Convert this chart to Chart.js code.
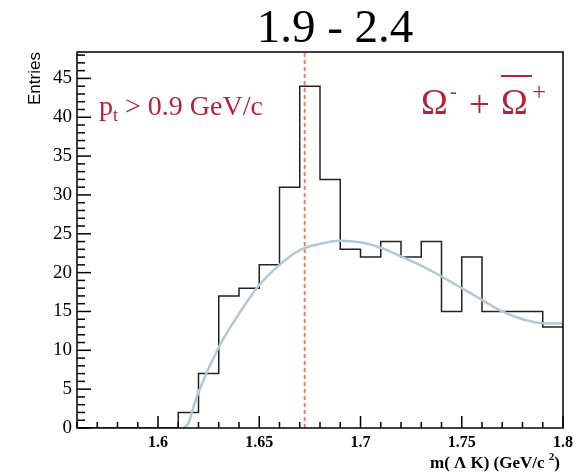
<!DOCTYPE html>
<html>
<head>
<meta charset="utf-8">
<script src="https://cdn.jsdelivr.net/npm/chart.js@4/dist/chart.umd.min.js"></script>
<style>
  html, body { margin:0; padding:0; background:#fff; }
  #wrap { width:587px; height:472px; position:relative; }
</style>
</head>
<body>
<div id="wrap"><canvas id="c"></canvas></div>
<script>
// histogram: 24 bins of 0.01 from 1.56 to 1.80
const binLow = 1.56;
const binWidth = 0.01;
const counts = [0,0,0,0,0,2,7,17,18,21,31,44,32,23,22,24,22,24,15,22,15,15,15,13];

// background fit
const fitX = [1.6126,1.615,1.6175,1.62,1.63,1.64,1.65,1.66,1.67,1.68,1.69,1.70,1.71,1.72,1.73,1.74,1.75,1.76,1.77,1.78,1.79,1.80];
const fitY = [0,0.6,2.7,4.6,10.4,14.7,18.4,21.0,22.9,23.7,24.1,23.9,23.2,22.1,20.9,19.5,18.0,16.5,15.0,14.0,13.5,13.45];

const omegaMass = 1.67245;
const xTicks = [1.6, 1.65, 1.7, 1.75, 1.8];
const yTicks = [0,5,10,15,20,25,30,35,40,45];
const xMin = 1.56, xMax = 1.8, yMax = 48.4;

const RED = '#b5213a';
const SERIF = '"Liberation Serif"';

const histPts = counts.map((c, i) => ({ x: binLow + i * binWidth, y: c }));
histPts.push({ x: binLow + counts.length * binWidth, y: counts[counts.length - 1] });
const fitPts = fitX.map((x, i) => ({ x, y: fitY[i] }));

// ROOT style inside ticks + frame
const rootAxes = {
  id: 'rootAxes',
  afterDatasetsDraw(chart) {
    const { ctx, chartArea: a } = chart;
    const sx = chart.scales.x, sy = chart.scales.y;
    ctx.save();
    ctx.setLineDash([]);
    ctx.strokeStyle = '#000';
    ctx.lineWidth = 1.5;
    for (let v = 0; v <= yMax; v++) {
      const py = sy.getPixelForValue(v);
      ctx.beginPath();
      ctx.moveTo(a.left, py);
      ctx.lineTo(a.left + (v % 5 === 0 ? 14 : 8), py);
      ctx.stroke();
    }
    for (let k = 0; k <= 24; k++) {
      const v = xMin + k * 0.01;
      const tx = sx.getPixelForValue(v);
      const major = Math.abs(Math.round(v / 0.05) * 0.05 - v) < 1e-6;
      ctx.beginPath();
      ctx.moveTo(tx, a.bottom);
      ctx.lineTo(tx, a.bottom - (major ? 12 : 6));
      ctx.stroke();
    }
    ctx.strokeRect(a.left, a.top, a.right - a.left, a.bottom - a.top);
    ctx.restore();
  }
};

const rootText = {
  id: 'rootText',
  afterDraw(chart) {
    const ctx = chart.ctx;
    ctx.save();
    ctx.fillStyle = '#000';
    ctx.textBaseline = 'alphabetic';

    // title
    ctx.textAlign = 'center';
    ctx.font = '47px ' + SERIF;
    ctx.fillText('1.9 - 2.4', 335, 42);

    // y title
    ctx.save();
    ctx.translate(40, 105);
    ctx.rotate(-Math.PI / 2);
    ctx.textAlign = 'left';
    ctx.font = '17px "Liberation Sans"';
    ctx.fillText('Entries', 0, 0);
    ctx.restore();

    // x title
    ctx.textAlign = 'left';
    ctx.font = 'bold 17px ' + SERIF;
    const t1 = 'm( \u039B K) (GeV/c ';
    const w1 = ctx.measureText(t1).width;
    const w3 = ctx.measureText(')').width;
    ctx.font = 'bold 11px ' + SERIF;
    const w2 = ctx.measureText('2').width;
    const tx0 = 560 - (w1 + w2 + w3);
    ctx.font = 'bold 17px ' + SERIF;
    ctx.fillText(t1, tx0, 468);
    ctx.fillText(')', tx0 + w1 + w2, 468);
    ctx.font = 'bold 11px ' + SERIF;
    ctx.fillText('2', tx0 + w1, 460);

    // pt label
    ctx.fillStyle = RED;
    ctx.font = '28px ' + SERIF;
    let px = 99;
    ctx.fillText('p', px, 115);
    px += ctx.measureText('p').width;
    ctx.font = '18px ' + SERIF;
    ctx.fillText('t', px, 121);
    px += ctx.measureText('t').width;
    ctx.font = '28px ' + SERIF;
    ctx.fillText(' > 0.9 GeV/c', px, 115);

    // Omega label
    ctx.font = '36px ' + SERIF;
    ctx.fillText('\u03A9', 421, 114);
    ctx.fillText('\u03A9', 501, 114);
    ctx.fillRect(501, 75, 31, 2);
    ctx.font = '37px ' + SERIF;
    ctx.fillText('+', 469, 117);
    ctx.font = '20px ' + SERIF;
    ctx.fillText('-', 450, 98);
    ctx.font = '25px ' + SERIF;
    ctx.fillText('+', 532, 100);
    ctx.restore();
  }
};

function draw() {
  new Chart(document.getElementById('c').getContext('2d'), {
    type: 'line',
    data: {
      datasets: [
        { label: 'fit', data: fitPts, borderColor: '#b7c6cf', borderWidth: 2.5,
          pointRadius: 0, cubicInterpolationMode: 'monotone', fill: false },
        { label: 'hist', data: histPts, borderColor: '#222', borderWidth: 1.5,
          pointRadius: 0, stepped: true, fill: false },
        { label: 'mass', data: [{ x: omegaMass, y: 0 }, { x: omegaMass, y: yMax }],
          borderColor: '#f47a68', borderWidth: 2, borderDash: [4, 3], pointRadius: 0, fill: false }
      ]
    },
    options: {
      responsive: true, maintainAspectRatio: false, animation: false,
      layout: { padding: { top: 52, right: 24, left: 0, bottom: 0 } },
      plugins: { legend: { display: false }, tooltip: { enabled: false } },
      scales: {
        x: {
          type: 'linear', min: xMin, max: xMax,
          grid: { display: false, drawTicks: false }, border: { display: false },
          afterBuildTicks: s => { s.ticks = xTicks.map(v => ({ value: v })); },
          afterFit: s => { s.height = 44; },
          ticks: { padding: 5, color: '#000', maxRotation: 0, autoSkip: false,
            font: { family: 'Liberation Serif', size: 16, weight: 'bold' },
            callback: v => String(+v.toFixed(2)) }
        },
        y: {
          min: 0, max: yMax,
          grid: { display: false, drawTicks: false }, border: { display: false },
          afterBuildTicks: s => { s.ticks = yTicks.map(v => ({ value: v })); },
          afterFit: s => { s.width = 77; },
          ticks: { padding: 5, color: '#000', autoSkip: false,
            font: { family: 'Liberation Serif', size: 19 } }
        }
      }
    },
    plugins: [rootAxes, rootText]
  });
}

Promise.all([
  document.fonts.load('47px "Liberation Serif"'),
  document.fonts.load('bold 16px "Liberation Serif"'),
  document.fonts.load('17px "Liberation Sans"')
]).then(draw, draw);
</script>
</body>
</html>
